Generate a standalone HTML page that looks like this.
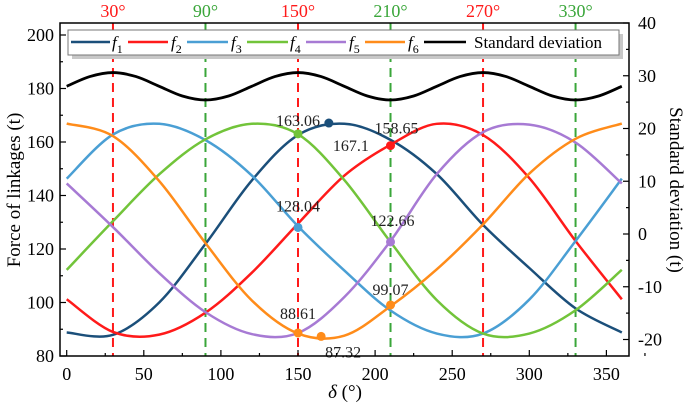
<!DOCTYPE html>
<html><head><meta charset="utf-8"><style>
html,body{margin:0;padding:0;background:#fff;}
svg{display:block;font-family:"Liberation Serif",serif;}
</style></head><body>
<svg id="chart" width="685" height="406" viewBox="0 0 685 406"></svg>
<script>
const angles = [0,30,60,90,120,150,180,210,240,270,300,330,360];
const f1 = [88.8,87.9,100.0,121.9,145.6,162.6,166.8,160.8,148.0,129.0,112.9,97.8,88.8];
const f2 = [101.2,89.0,88.0,96.2,111.1,129.5,147.4,159.0,166.8,162.6,146.5,123.0,101.2];
const f3 = [146.3,162.8,166.8,160.7,147.5,128.5,112.0,97.0,88.4,88.4,101.1,123.0,146.3];
const f4 = [112.2,130.4,147.9,161.0,166.8,162.9,145.8,122.6,100.9,88.4,88.4,97.1,112.2];
const f5 = [144.5,128.2,111.0,96.4,88.2,88.6,102.0,123.0,148.0,163.7,166.5,159.8,144.5];
const f6 = [166.9,162.2,145.4,122.2,100.8,88.4,87.6,98.6,112.4,129.2,148.2,161.2,166.9];
const stdAngles = [0,15,30,45,60,75,90,105,120,135,150,165,180,195,210,225,240,255,270,285,300,315,330,345,360];
const stdValues = [28,29.84,30.6,29.84,28,26.16,25.4,26.16,28,29.84,30.6,29.84,28,26.16,25.4,26.16,28,29.84,30.6,29.84,28,26.16,25.4,26.16,28];
const seriesNames = ["f1","f2","f3","f4","f5","f6"];
const seriesColors = ["#1b4f7a","#ff1a1a","#4a9fd4","#72c43a","#a77ad4","#ff8c1a"];
const markerAngles = [170,150,150,210,210,150,165,210];
const markerValues = [167.1,163.06,128.04,158.65,122.66,88.61,87.32,99.07];
const markerSeries = [0,3,2,1,4,5,5,5];
const markerLabels = ["167.1","163.06","128.04","158.65","122.66","88.61","87.32","99.07"];
const xTicks = [0,50,100,150,200,250,300,350];
const yTicks = [80,100,120,140,160,180,200];
const y2Ticks = [-20,-10,0,10,20,30,40];
const refAngles = [30,90,150,210,270,330];
const refColors = ["#ff1a1a","#3aa63a","#ff1a1a","#3aa63a","#ff1a1a","#3aa63a"];

const L=60,R=629,T=23,B=356;
const xs=d=>66.7+d*1.542;
const ys=v=>356-(v-80)*2.675;
const ys2=v=>234-v*5.275;
const svg=document.getElementById('chart');
const NS='http://www.w3.org/2000/svg';
function mk(tag,attrs,parent){const e=document.createElementNS(NS,tag);for(const k in attrs)e.setAttribute(k,attrs[k]);(parent||svg).appendChild(e);return e;}
function smooth(pts){let d=`M${pts[0][0]},${pts[0][1]}`;for(let i=0;i<pts.length-1;i++){const p0=pts[i-1]||pts[i],p1=pts[i],p2=pts[i+1],p3=pts[i+2]||p2;
d+=` C${p1[0]+(p2[0]-p0[0])/6},${p1[1]+(p2[1]-p0[1])/6} ${p2[0]-(p3[0]-p1[0])/6},${p2[1]-(p3[1]-p1[1])/6} ${p2[0]},${p2[1]}`;}return d;}

refAngles.forEach((a,i)=>{
 const l=mk('line',{x1:xs(a),x2:xs(a),y1:T,y2:B,stroke:refColors[i],'stroke-width':2,'stroke-dasharray':'9,6'});
 
 
 const t=mk('text',{x:xs(a),y:17,'text-anchor':'middle','font-size':18,fill:refColors[i]});
 t.textContent=a+'°';
 
 
});
const sp=mk('path',{d:smooth(stdAngles.map((a,i)=>[xs(a),ys2(stdValues[i])])),fill:'none',stroke:'#000','stroke-width':2.8});


[f1,f2,f3,f4,f5,f6].forEach((s,k)=>{
 const p=mk('path',{d:smooth(angles.map((a,i)=>[xs(a),ys(s[i])])),fill:'none',stroke:seriesColors[k],'stroke-width':2.5});
 
 
});
const lblPos=[[22,28],[0,-8],[0,-16],[6,-12],[2,-16],[0,-14],[22,21],[0,-10]];
markerAngles.forEach((a,i)=>{
 const c=mk('circle',{cx:xs(a),cy:ys(markerValues[i]),r:4.5,fill:seriesColors[markerSeries[i]]});
 
 
 const t=mk('text',{x:xs(a)+lblPos[i][0],y:ys(markerValues[i])+lblPos[i][1],'text-anchor':'middle','font-size':16,fill:'#222'});
 t.textContent=markerLabels[i];
 
 
});
const fr=mk('rect',{x:L,y:T,width:R-L,height:B-T,fill:'none',stroke:'#000','stroke-width':1.5});


xTicks.forEach(v=>{
 mk('line',{x1:xs(v),x2:xs(v),y1:B,y2:B-6,stroke:'#000','stroke-width':1.2});
 mk('line',{x1:xs(v+25),x2:xs(v+25),y1:B,y2:B-3,stroke:'#000','stroke-width':1.2});
 const t=mk('text',{x:xs(v),y:B+24,'text-anchor':'middle','font-size':18});
 t.textContent=v;
 
 
});
yTicks.forEach(v=>{
 mk('line',{x1:L,x2:L+6,y1:ys(v),y2:ys(v),stroke:'#000','stroke-width':1.2});
 if(v<200)mk('line',{x1:L,x2:L+3,y1:ys(v+10),y2:ys(v+10),stroke:'#000','stroke-width':1.2});
 const t=mk('text',{x:L-6,y:ys(v)+6,'text-anchor':'end','font-size':18});
 t.textContent=v;
 
 
});
y2Ticks.forEach(v=>{
 mk('line',{x1:R,x2:R-6,y1:ys2(v),y2:ys2(v),stroke:'#000','stroke-width':1.2});
 if(v>-20)mk('line',{x1:R,x2:R-3,y1:ys2(v-5),y2:ys2(v-5),stroke:'#000','stroke-width':1.2});
 const t=mk('text',{x:R+9,y:ys2(v)+6,'text-anchor':'start','font-size':18});
 t.textContent=v;
 
 
});
</script>
<svg width="685" height="406" style="position:absolute;left:0;top:0;font-family:'Liberation Serif',serif">
 <g>
  <rect x="72" y="34" width="551" height="25" fill="#c8c8c8"/>
  <rect x="68" y="30" width="551" height="25" fill="#fff" stroke="#777" stroke-width="1"/>
  <line x1="71" y1="42" x2="110" y2="42" stroke="#1b4f7a" stroke-width="2.5"/>
  <text x="112" y="48" font-size="17" font-style="italic">f<tspan font-size="12" dy="5" font-style="normal">1</tspan></text>
  <line x1="128" y1="42" x2="168" y2="42" stroke="#ff1a1a" stroke-width="2.5"/>
  <text x="171" y="48" font-size="17" font-style="italic">f<tspan font-size="12" dy="5" font-style="normal">2</tspan></text>
  <line x1="187" y1="42" x2="228" y2="42" stroke="#4a9fd4" stroke-width="2.5"/>
  <text x="231" y="48" font-size="17" font-style="italic">f<tspan font-size="12" dy="5" font-style="normal">3</tspan></text>
  <line x1="247" y1="42" x2="288" y2="42" stroke="#72c43a" stroke-width="2.5"/>
  <text x="290" y="48" font-size="17" font-style="italic">f<tspan font-size="12" dy="5" font-style="normal">4</tspan></text>
  <line x1="306" y1="42" x2="346" y2="42" stroke="#a77ad4" stroke-width="2.5"/>
  <text x="349" y="48" font-size="17" font-style="italic">f<tspan font-size="12" dy="5" font-style="normal">5</tspan></text>
  <line x1="365" y1="42" x2="405" y2="42" stroke="#ff8c1a" stroke-width="2.5"/>
  <text x="408" y="48" font-size="17" font-style="italic">f<tspan font-size="12" dy="5" font-style="normal">6</tspan></text>
  <line x1="424" y1="42" x2="466" y2="42" stroke="#000" stroke-width="2.5"/>
  <text x="474" y="48" font-size="17">Standard deviation</text>
 </g>
 <text x="20" y="190" font-size="19" text-anchor="middle" transform="rotate(-90 20 190)">Force of linkages (t)</text>
 <text x="670" y="190" font-size="19" text-anchor="middle" transform="rotate(90 670 190)">Standard deviation (t)</text>
 <text x="345" y="398" font-size="19" text-anchor="middle"><tspan font-style="italic">δ</tspan> (°)</text>
</svg>
</body></html>
